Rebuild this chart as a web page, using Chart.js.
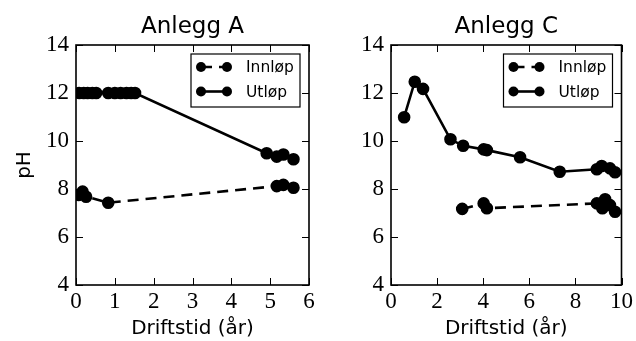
<!DOCTYPE html>
<html><head><meta charset="utf-8">
<script src="https://cdn.jsdelivr.net/npm/chart.js@4.4.0/dist/chart.umd.min.js"></script>
<style>html,body{margin:0;padding:0;background:#fff;width:636px;height:341px;overflow:hidden}
canvas{position:absolute;top:0}</style></head>
<body>
<canvas id="a" width="318" height="341" style="left:0"></canvas>
<canvas id="c" width="318" height="341" style="left:318px"></canvas>
<script>
const seriesNames = ['Innløp', 'Utløp'];
const titles = ['Anlegg A', 'Anlegg C'];
const xLabel = 'Driftstid (år)';
const yLabel = 'pH';
const yTicks = [4, 6, 8, 10, 12, 14];
const aXTicks = [0, 1, 2, 3, 4, 5, 6];
const cXTicks = [0, 2, 4, 6, 8, 10];

const aInnX = [0.06, 0.17, 0.26, 0.83, 5.17, 5.34, 5.6];
const aInnY = [7.75, 7.89, 7.68, 7.43, 8.12, 8.17, 8.05];
const aUtX = [0.08, 0.2, 0.3, 0.42, 0.52, 0.83, 1.0, 1.15, 1.3, 1.42, 1.52, 4.91, 5.17, 5.34, 5.6];
const aUtY = [12, 12, 12, 12, 12, 12, 12, 12, 12, 12, 12, 9.49, 9.35, 9.44, 9.24];

const cInnX = [3.09, 4.02, 4.16, 8.93, 9.17, 9.29, 9.5, 9.72];
const cInnY = [7.17, 7.4, 7.2, 7.4, 7.2, 7.57, 7.33, 7.05];
const cUtX = [0.57, 1.03, 1.39, 2.58, 3.13, 4.02, 4.16, 5.6, 7.32, 8.93, 9.14, 9.5, 9.72];
const cUtY = [10.99, 12.47, 12.17, 10.07, 9.8, 9.65, 9.62, 9.32, 8.72, 8.82, 8.96, 8.86, 8.7];

const pts = (xs, ys) => xs.map((x, i) => ({x: x, y: ys[i]}));

const framePlugin = {
  id: 'frame',
  afterDatasetsDraw(chart) {
    const ctx = chart.ctx;
    const {left, right, top, bottom} = chart.chartArea;
    const xs = chart.scales.x, ys = chart.scales.y;
    ctx.save();
    ctx.strokeStyle = '#000';
    ctx.lineWidth = 1;
    ctx.beginPath();
    xs.ticks.forEach(t => {
      const p = Math.round(xs.getPixelForValue(t.value)) + 0.5;
      ctx.moveTo(p, bottom); ctx.lineTo(p, bottom - 7);
      ctx.moveTo(p, top); ctx.lineTo(p, top + 7);
    });
    ys.ticks.forEach(t => {
      const p = Math.round(ys.getPixelForValue(t.value)) + 0.5;
      ctx.moveTo(left, p); ctx.lineTo(left + 7, p);
      ctx.moveTo(right, p); ctx.lineTo(right - 7, p);
    });
    ctx.stroke();
    ctx.lineWidth = 1.6;
    ctx.strokeRect(left, top, right - left, bottom - top);

    // legend
    const bw = 109, bh = 53;
    const bx = right - 9 - bw, by = top + 9;
    ctx.fillStyle = '#fff';
    ctx.fillRect(bx, by, bw, bh);
    ctx.lineWidth = 1.2;
    ctx.strokeRect(bx, by, bw, bh);
    chart.data.datasets.forEach((ds, i) => {
      const yy = by + 13 + i * 24.5;
      const x1 = bx + 10, x2 = bx + 36;
      ctx.setLineDash(ds.borderDash || []);
      ctx.lineWidth = ds.borderWidth;
      ctx.strokeStyle = '#000';
      ctx.beginPath(); ctx.moveTo(x1, yy); ctx.lineTo(x2, yy); ctx.stroke();
      ctx.setLineDash([]);
      ctx.fillStyle = '#000';
      [x1, x2].forEach(px => { ctx.beginPath(); ctx.arc(px, yy, ds.pointRadius, 0, Math.PI * 2); ctx.fill(); });
      ctx.font = '15.5px DejaVu Sans, sans-serif';
      ctx.textBaseline = 'middle';
      ctx.textAlign = 'left';
      ctx.fillText(ds.label, bx + 55, yy + 1);
    });
    ctx.restore();
  }
};

function makeChart(id, title, inn, ut, xmax, xticks, yAxisW, padRight, showY) {
  const tickFont = {family: 'Liberation Serif, DejaVu Serif, serif', size: 23};
  const sans = 'DejaVu Sans, sans-serif';
  const common = {borderColor: '#000', backgroundColor: '#000', pointBackgroundColor: '#000', pointBorderColor: '#000',
    pointRadius: 5, pointHoverRadius: 5, borderWidth: 2.6, tension: 0, clip: 0, fill: false};
  return new Chart(document.getElementById(id), {
    type: 'line',
    data: {datasets: [
      Object.assign({label: seriesNames[0], data: inn, borderDash: [11, 7]}, common),
      Object.assign({label: seriesNames[1], data: ut, borderDash: []}, common)
    ]},
    options: {
      responsive: false, animation: false, events: [],
      layout: {padding: {left: 0, right: padRight, top: 0, bottom: 0}},
      plugins: {
        legend: {display: false}, tooltip: {enabled: false},
        title: {display: true, text: title, color: '#000', fullSize: false,
          font: {family: sans, size: 23, weight: 'normal'}, padding: {top: 13, bottom: 4.4}}
      },
      scales: {
        x: {type: 'linear', min: 0, max: xmax,
          afterBuildTicks: s => { s.ticks = xticks.map(v => ({value: v})); },
          afterFit: s => { s.height = 56; },
          grid: {display: false, drawTicks: false}, border: {display: false},
          ticks: {font: tickFont, color: '#000', padding: 3, maxRotation: 0, autoSkip: false},
          title: {display: true, text: xLabel, color: '#000', font: {family: sans, size: 20}, padding: 0}
        },
        y: {type: 'linear', min: 4, max: 14,
          afterBuildTicks: s => { s.ticks = yTicks.map(v => ({value: v})); },
          afterFit: s => { s.width = yAxisW; },
          grid: {display: false, drawTicks: false}, border: {display: false},
          ticks: {font: tickFont, color: '#000', padding: 7, autoSkip: false},
          title: {display: showY, text: yLabel, color: '#000', font: {family: sans, size: 20}, padding: {top: 13, bottom: 0}}
        }
      }
    },
    plugins: [framePlugin]
  });
}

makeChart('a', titles[0], pts(aInnX, aInnY), pts(aUtX, aUtY), 6, aXTicks, 76, 9, true);
makeChart('c', titles[1], pts(cInnX, cInnY), pts(cUtX, cUtY), 10, cXTicks, 73, 13, false);
</script>
</body></html>
